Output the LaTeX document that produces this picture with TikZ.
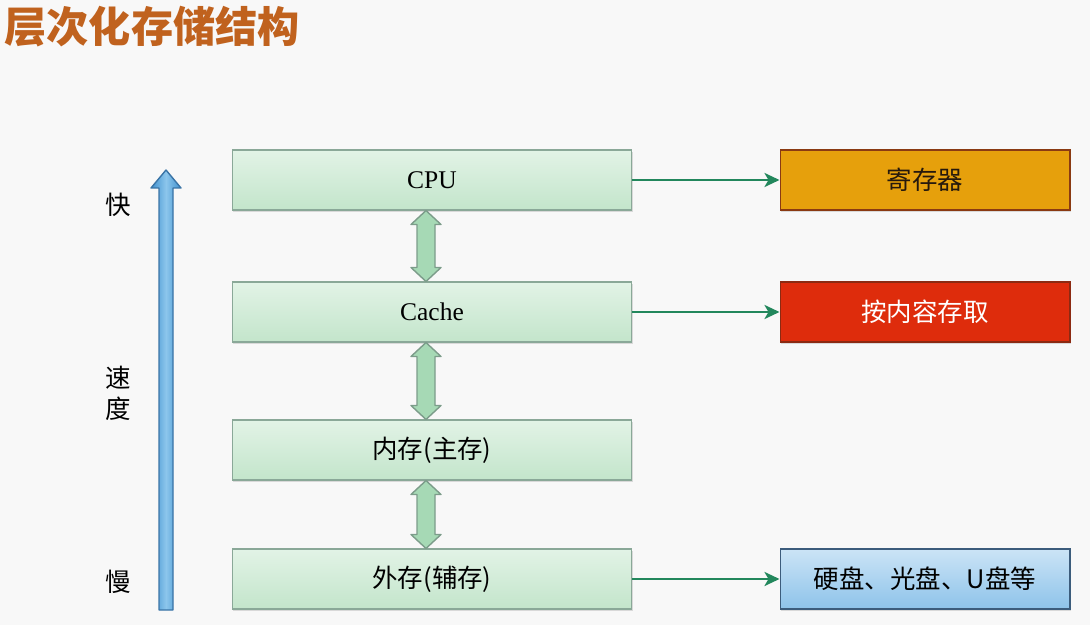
\documentclass[tikz,border=0pt]{standalone}
\usepackage{fontspec}
\setmainfont{Liberation Serif}
\newfontfamily\cjk{Noto Sans CJK SC}
\usetikzlibrary{arrows.meta,calc,shadows}
\definecolor{bgpaper}{HTML}{F8F8F8}
\definecolor{titlecol}{HTML}{C0621E}
\definecolor{lvltop}{HTML}{E2F3E6}
\definecolor{lvlbot}{HTML}{C3E5CB}
\definecolor{lvledge}{HTML}{8AA898}
\definecolor{dblfill}{HTML}{A6D9B5}
\definecolor{dbledge}{HTML}{7C9C8A}
\definecolor{linkcol}{HTML}{22875C}
\definecolor{regfill}{HTML}{E6A00C}
\definecolor{regedge}{HTML}{8A3A12}
\definecolor{camfill}{HTML}{DE2C0C}
\definecolor{camedge}{HTML}{8C2A12}
\definecolor{disktop}{HTML}{CBE4F6}
\definecolor{diskbot}{HTML}{8EC3EA}
\definecolor{diskedge}{HTML}{3C5C7C}
\definecolor{axisside}{HTML}{3F90CE}
\definecolor{axismid}{HTML}{8CC6EC}
\definecolor{axisedge}{HTML}{3A74A6}
% fat two-headed arrow from the bottom of #1 to the top of #2
\newcommand{\updown}[2]{%
  \draw[dbl] ($(#1.south)+(-6,0)$) -- ++(15,14) -- ++(-6,0) -- ($(#2.north)+(3,-14)$) -- ++(6,0)
    -- ($(#2.north)+(-6,0)$) -- ++(-15,-14) -- ++(6,0) -- ($(#1.south)+(-15,14)$) -- ++(-6,0) -- cycle;}

\begin{document}
\begin{tikzpicture}[x=0.02cm, y=-0.02cm, font=\cjk\fontsize{14.5}{17.6}\selectfont, line width=0.6pt,
  level/.style={draw=lvledge, top color=lvltop, bottom color=lvlbot, minimum width=8cm, minimum height=1.2cm, inner sep=0pt,
    drop shadow={opacity=0.25, shadow xshift=0.6pt, shadow yshift=-1pt}},
  note/.style={minimum width=5.8cm, minimum height=1.2cm, inner sep=0pt,
    drop shadow={opacity=0.25, shadow xshift=0.6pt, shadow yshift=-1pt}},
  dbl/.style={draw=dbledge, fill=dblfill, line width=0.8pt, line join=round},
  link/.style={draw=linkcol, line width=1.7pt, -{Stealth[length=3mm, width=2.8mm, inset=0.8mm]}},
  side/.style={inner sep=0pt, align=center}]
\fill[bgpaper] (0,0) rectangle (1090,625);
%% title
\node[anchor=west, text=titlecol, font=\cjk\bfseries\fontsize{24}{28}\selectfont, inner sep=0pt] (title) at (4,27) {层次化存储结构};
%% speed axis
\coordinate (slow) at (166,610);
\coordinate (fast) at (166,170);
\draw[draw=axisedge, left color=axisside, right color=axisside, middle color=axismid, line width=0.8pt, line join=round]
  ($(slow)+(-7,0)$) -- ($(fast)+(-7,18)$) -- ++(-8,0)
  -- (fast) -- ++(15,18) -- ++(-8,0) -- ($(slow)+(7,0)$) -- cycle;
\node[side] (kuai) at (118,205) {快};
\node[side] (sudu) at (118,393) {速\\度};
\node[side] (man) at (118,582) {慢};
%% hierarchy
\node[level] (cpu) at (432,180) {\rmfamily CPU};
\node[level] (cache) at (432,312) {\rmfamily Cache};
\node[level] (mem) at (432,450) {内存(主存)};
\node[level] (ext) at (432,579) {外存(辅存)};
\updown{cpu}{cache}
\updown{cache}{mem}
\updown{mem}{ext}
%% notes
\node[note, draw=regedge, fill=regfill, text=black!80!brown] (reg) at (925,180) {寄存器};
\node[note, draw=camedge, fill=camfill, text=white] (cam) at (925,312) {按内容存取};
\node[note, draw=diskedge, top color=disktop, bottom color=diskbot] (disk) at (925,579) {硬盘、光盘、U盘等};
\draw[link] (cpu.east) -- (reg.west);
\draw[link] (cache.east) -- (cam.west);
\draw[link] (ext.east) -- (disk.west);
\end{tikzpicture}
\end{document}
